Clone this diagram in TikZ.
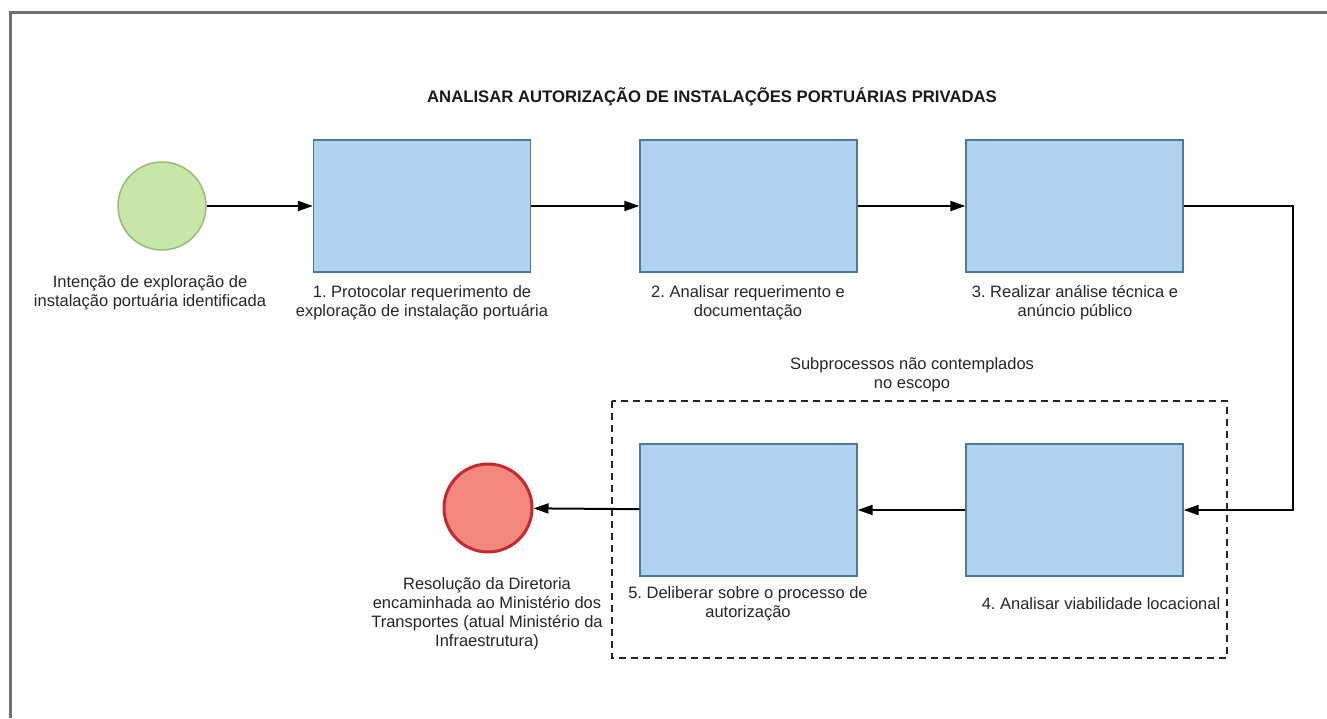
\documentclass[tikz,border=0pt]{standalone}
\usepackage{fontspec}
\setmainfont{Liberation Sans}
\usetikzlibrary{arrows.meta}
\frenchspacing
\definecolor{boxfill}{HTML}{B0D2F0}
\definecolor{boxline}{HTML}{4A7C99}
\definecolor{startfill}{HTML}{C8E6A8}
\definecolor{startline}{HTML}{98BC78}
\definecolor{endfill}{HTML}{F4877E}
\definecolor{endline}{HTML}{C42A30}
\definecolor{frame}{HTML}{707070}
\tikzset{
  x=1pt, y=-1pt,
  task/.style={draw=boxline, fill=boxfill, line width=1.3pt, minimum width=217pt, minimum height=132pt, inner sep=0pt},
  startev/.style={circle, draw=startline, fill=startfill, line width=1.5pt, minimum size=88pt, inner sep=0pt},
  endev/.style={circle, draw=endline, fill=endfill, line width=3pt, minimum size=88pt, inner sep=0pt},
  lbl/.style={align=center, font=\frenchspacing\fontsize{16.5}{19}\selectfont, text=black!85, inner sep=0pt},
  flow/.style={line width=2pt, -{Triangle[length=15pt,width=10pt]}},
  scopebox/.style={draw=black!85, line width=1.6pt, dash pattern=on 7pt off 5pt}
}
\begin{document}
\begin{tikzpicture}
\useasboundingbox (0,0) rectangle (1327,718);
\draw[frame, line width=3pt] (10,718) -- (10,12) -- (1327,12);
\node[font=\bfseries\fontsize{16.7}{19}\selectfont, text=black!90] (title) at (712,97) {ANALISAR AUTORIZAÇÃO DE INSTALAÇÕES PORTUÁRIAS PRIVADAS};

\draw[scopebox] (612,401) rectangle (1227,658);
\node[lbl] (scopelbl) at (912,375) {Subprocessos não contemplados\\no escopo};

\node[startev] (start) at (162,206) {};
\node[task] (t1) at (422,206) {};
\node[task] (t2) at (748.5,206) {};
\node[task] (t3) at (1074.5,206) {};
\node[task] (t4) at (1074.5,510) {};
\node[task] (t5) at (748.5,510) {};
\node[endev] (end) at (488,508) {};
\coordinate (c1) at (1293,206);
\coordinate (c2) at (1293,510);

\node[lbl] (lstart) at (150,293) {Intenção de exploração de\\instalação portuária identificada};
\node[lbl] (l1) at (422,303) {1. Protocolar requerimento de\\exploração de instalação portuária};
\node[lbl] (l2) at (748,303) {2. Analisar requerimento e\\documentação};
\node[lbl] (l3) at (1075,303) {3. Realizar análise técnica e\\anúncio público};
\node[lbl] (l5) at (748,604) {5. Deliberar sobre o processo de\\autorização};
\node[lbl] (l4) at (1101,604) {4. Analisar viabilidade locacional};
\node[lbl] (lend) at (487,614) {Resolução da Diretoria\\encaminhada ao Ministério dos\\Transportes (atual Ministério da\\Infraestrutura)};

\draw[flow] (start) -- (t1);
\draw[flow] (t1) -- (t2);
\draw[flow] (t2) -- (t3);
\draw[flow] (t3.east) -- (c1) -- (c2) -- (t4.east);
\draw[flow] (t4) -- (t5);
\draw[flow] (t5) -- (end);
\end{tikzpicture}
\end{document}
